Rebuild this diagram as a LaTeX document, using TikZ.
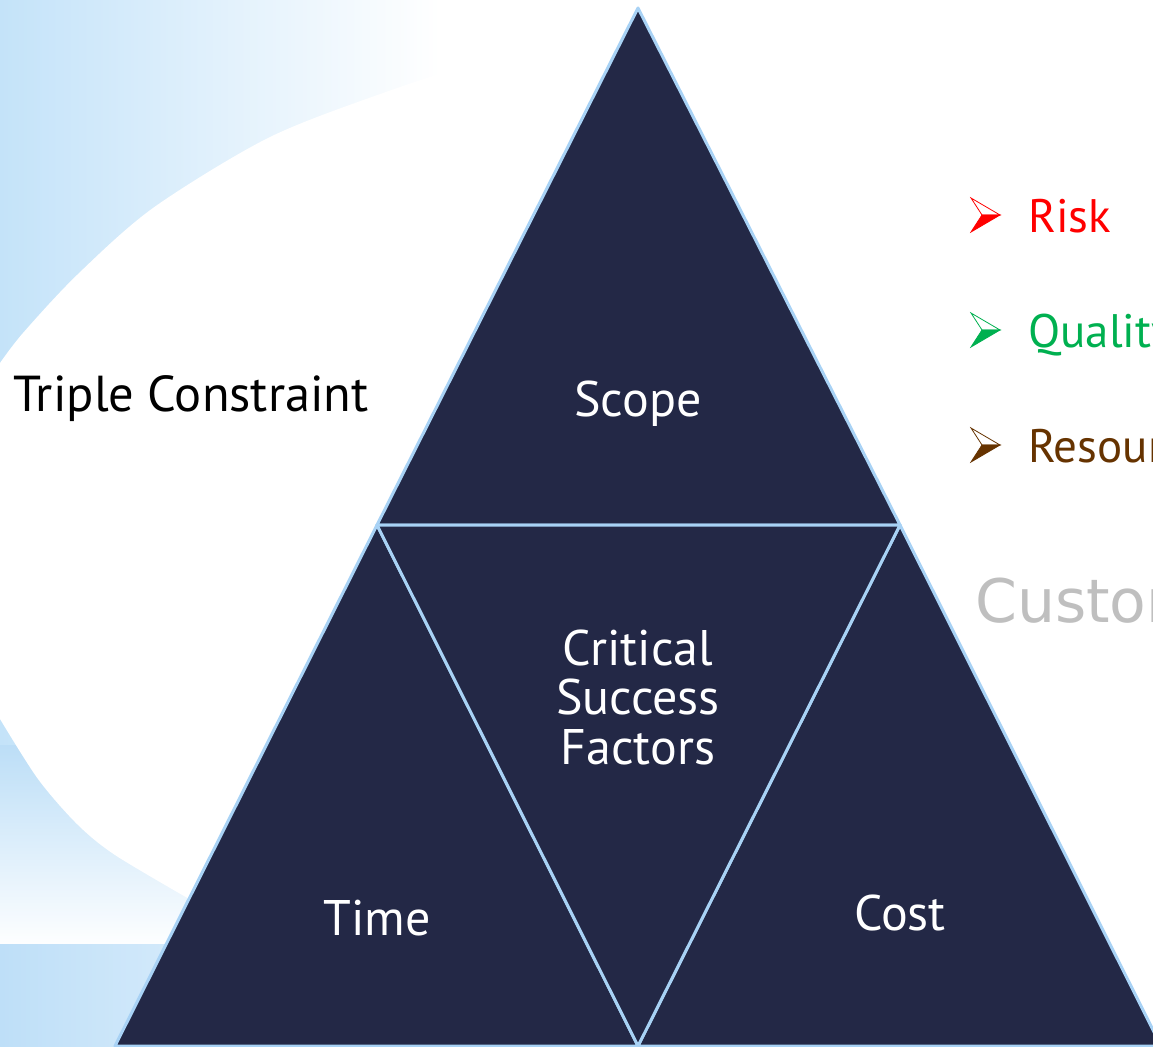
\documentclass[tikz,border=0pt]{standalone}
\usepackage{fontspec}
\setmainfont{PT Sans}
\newfontfamily\custfont{DejaVu Sans}
\definecolor{navy}{RGB}{35,40,70}
\definecolor{edgeblue}{RGB}{168,210,245}
\definecolor{bgblue}{RGB}{196,227,249}
\definecolor{bandblue}{RGB}{190,223,248}
\definecolor{bandlight}{RGB}{226,241,252}
\definecolor{lowblue}{RGB}{188,222,247}
\definecolor{riskred}{RGB}{255,0,0}
\definecolor{qualgreen}{RGB}{0,176,80}
\definecolor{resbrown}{RGB}{102,51,0}
\definecolor{custgray}{RGB}{191,191,191}
\begin{document}
\begin{tikzpicture}[x=1pt,y=-1pt,
  tri/.style={fill=navy,draw=edgeblue,line width=3pt,line join=round},
  trilabel/.style={text=white,font=\fontsize{50}{50}\selectfont,inner sep=0pt},
  bullettext/.style={anchor=base west,font=\fontsize{47}{47}\selectfont,inner sep=0pt},
  arrowtop/.style={fill=white,draw=#1,line width=0.8pt,line join=miter},
  arrowbot/.style={fill=#1,draw=#1,line width=0.8pt,line join=miter}]
\useasboundingbox (0,0) rectangle (1153,1046);
\clip (0,0) rectangle (1153,1046);
% background
\fill[white] (0,0) rectangle (1153,1046);
\shade[left color=bgblue,right color=white] (0,0) rectangle (440,1046);
\shade[top color=lowblue,bottom color=white!97!bgblue] (0,745) rectangle (280,944);
\fill[white] plot[smooth] coordinates {(0,363) (23,333) (77,275) (153,208) (268,138) (383,93) (500,55) (640,20)}
  -- (1153,0) -- (1153,1046) -- (300,1046) -- (196,903)
  -- plot[smooth] coordinates {(191,900) (115,855) (77,824) (38,779) (0,719)} -- cycle;
\shade[left color=bandblue,right color=bandlight] (0,944) rectangle (300,1046);
% triangle vertices
\coordinate (A) at (638,8);
\coordinate (L) at (377,525);
\coordinate (R) at (900,525);
\coordinate (B) at (638,1046);
\coordinate (LL) at (115,1046);
\coordinate (RR) at (1161,1046);
\draw[tri] (A) -- (L) -- (R) -- cycle;
\draw[tri] (L) -- (LL) -- (B) -- cycle;
\draw[tri] (R) -- (B) -- (RR) -- cycle;
\draw[tri] (L) -- (R) -- (B) -- cycle;
% labels
\node[anchor=base west,font=\fontsize{50.5}{50.5}\selectfont,inner sep=0pt] (tc) at (13,411) {Triple Constraint};
\node[trilabel,anchor=base] (scope) at (638,416) {Scope};
\node[trilabel,align=center,font=\fontsize{50}{49.5}\selectfont] (csf) at (638,697) {Critical\\Success\\Factors};
\node[trilabel,anchor=base] (time) at (377,935) {Time};
\node[trilabel,anchor=base] (cost) at (900,930) {Cost};
% bullets
\draw[arrowtop=riskred] (971,198) -- (1000,215) -- (982,215) -- cycle;
\draw[arrowbot=riskred] (982,215) -- (1000,215) -- (971,232) -- cycle;
\node[bullettext,text=riskred] (risk) at (1028,232) {Risk};
\draw[arrowtop=qualgreen] (971,313) -- (1000,330) -- (982,330) -- cycle;
\draw[arrowbot=qualgreen] (982,330) -- (1000,330) -- (971,347) -- cycle;
\node[bullettext,text=qualgreen] (quality) at (1028,347) {Quality};
\draw[arrowtop=resbrown] (971,428) -- (1000,445) -- (982,445) -- cycle;
\draw[arrowbot=resbrown] (982,445) -- (1000,445) -- (971,462) -- cycle;
\node[bullettext,text=resbrown] (resources) at (1028,462) {Resources};
\node[anchor=base west,inner sep=0pt,text=custgray,font=\custfont\fontsize{60}{60}\selectfont] (customer) at (975,622) {Customer};
\end{tikzpicture}
\end{document}
